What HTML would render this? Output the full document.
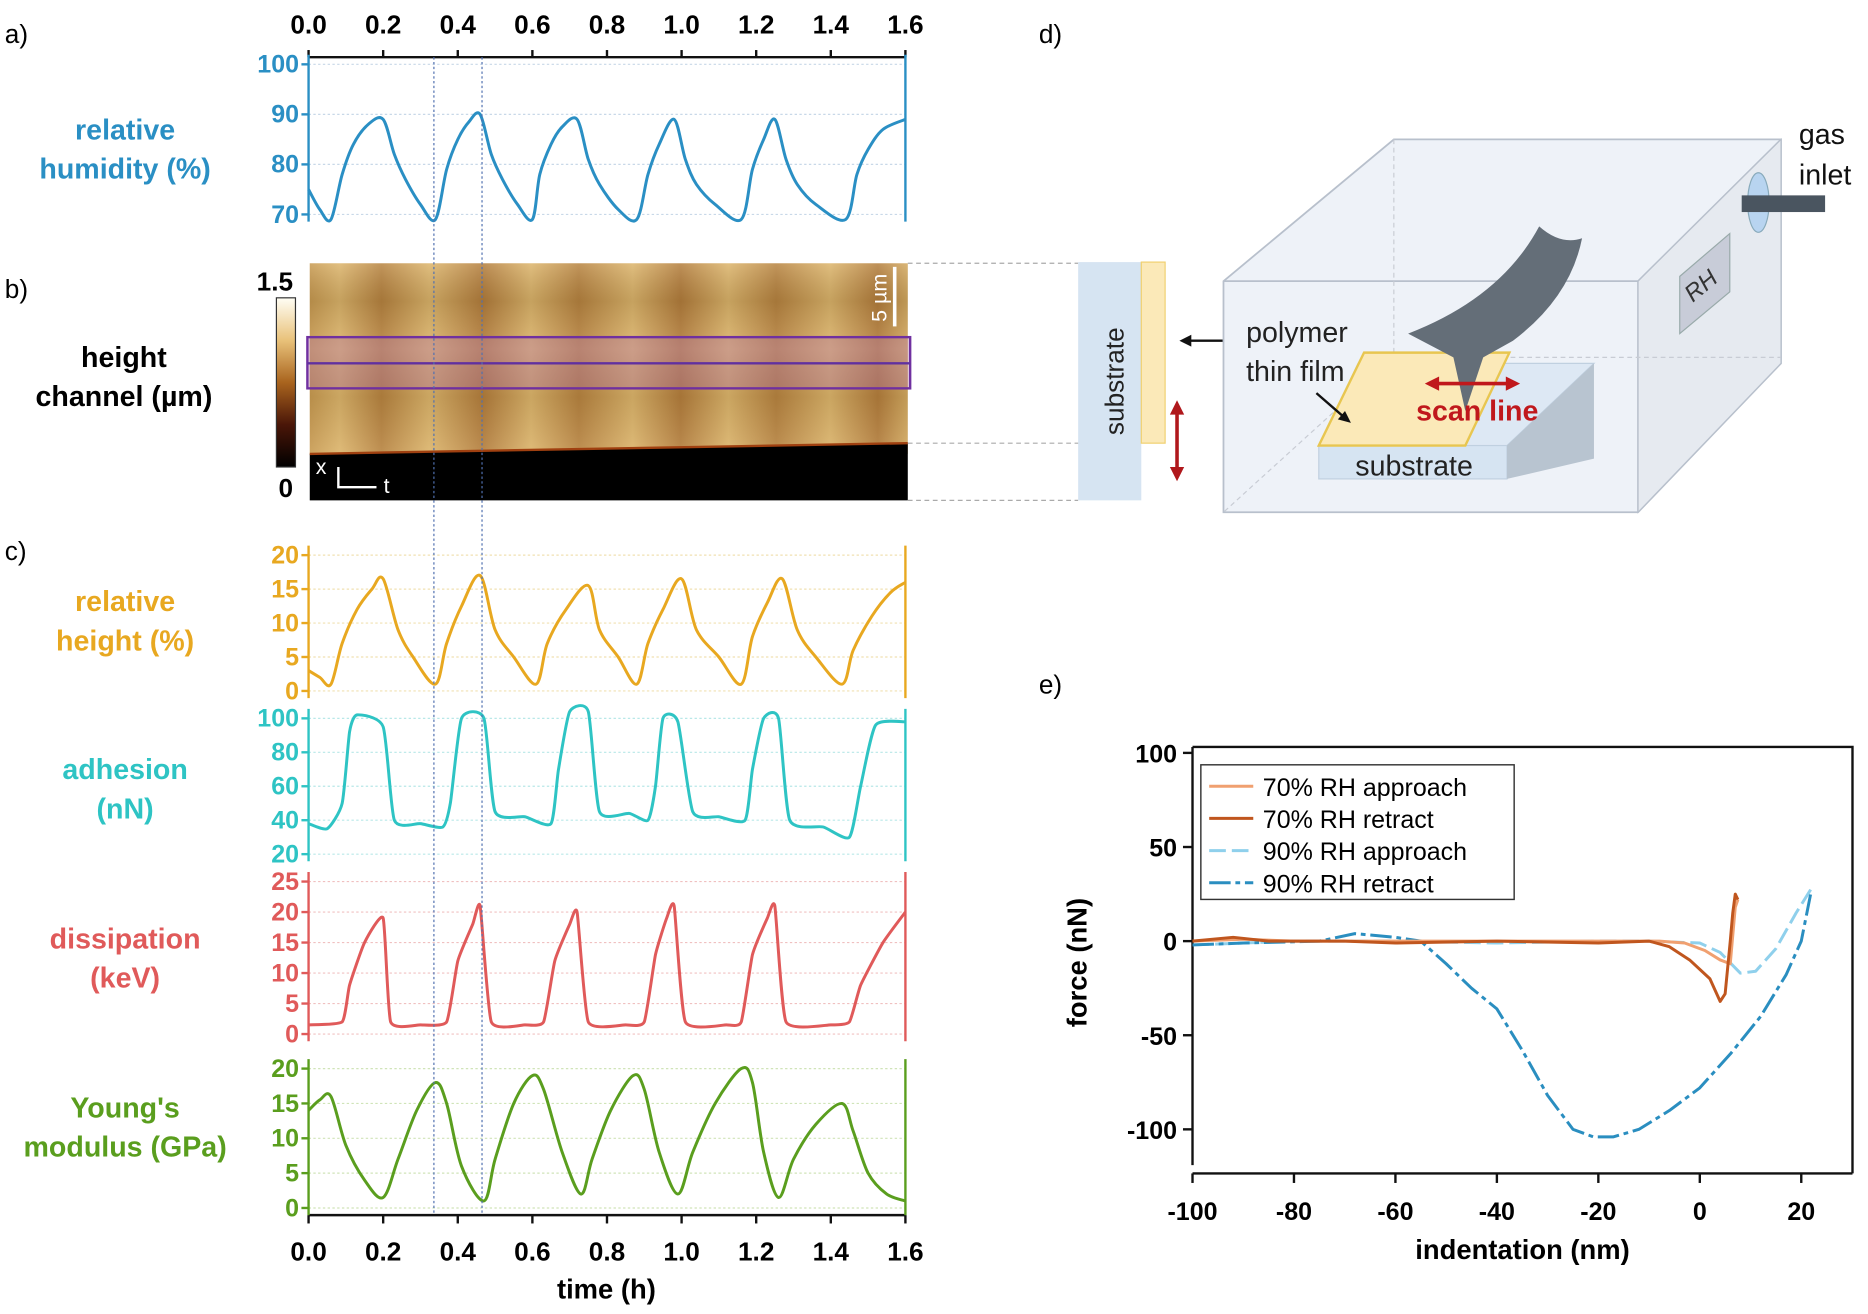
<!DOCTYPE html>
<html><head><meta charset="utf-8"><style>
html,body{margin:0;padding:0;background:#fff;}
svg{display:block;font-family:"Liberation Sans",Arial,sans-serif;}
</style></head><body>
<svg id="fig" width="1868" height="1314" viewBox="0 0 1568 1103" xmlns="http://www.w3.org/2000/svg">
<defs>
<linearGradient id="cbar" x1="0" y1="0" x2="0" y2="1">
<stop offset="0" stop-color="#fffef5"/><stop offset="0.25" stop-color="#e9c27a"/><stop offset="0.5" stop-color="#a9641e"/><stop offset="0.75" stop-color="#4a1608"/><stop offset="1" stop-color="#000"/>
</linearGradient>
<linearGradient id="stripes" x1="0" y1="0" x2="1" y2="0">
<stop offset="0" stop-color="#c89a50"/><stop offset="0.05" stop-color="#dcb46a"/><stop offset="0.12" stop-color="#b88440"/>
<stop offset="0.2" stop-color="#dcb46a"/><stop offset="0.29" stop-color="#b47e3c"/><stop offset="0.37" stop-color="#dcb46a"/>
<stop offset="0.45" stop-color="#b88440"/><stop offset="0.54" stop-color="#dcb46a"/><stop offset="0.62" stop-color="#b47e3c"/>
<stop offset="0.7" stop-color="#dcb46a"/><stop offset="0.78" stop-color="#b88440"/><stop offset="0.87" stop-color="#dcb46a"/>
<stop offset="0.95" stop-color="#b47e3c"/><stop offset="1" stop-color="#d4aa60"/>
</linearGradient>
<linearGradient id="vstr" x1="0" y1="0" x2="0" y2="1">
<stop offset="0" stop-color="#fff" stop-opacity="0.15"/><stop offset="0.2" stop-color="#000" stop-opacity="0.1"/><stop offset="0.45" stop-color="#fff" stop-opacity="0.1"/><stop offset="0.7" stop-color="#000" stop-opacity="0.08"/><stop offset="1" stop-color="#fff" stop-opacity="0.1"/>
</linearGradient>
</defs>
<g id="left"></g>
<g id="diagram">
<text x="872" y="36" font-size="22">d)</text>
<line x1="762" y1="221" x2="905" y2="221" stroke="#aaa" stroke-dasharray="4,3"/>
<line x1="762" y1="372" x2="958" y2="372" stroke="#aaa" stroke-dasharray="4,3"/>
<line x1="762" y1="420" x2="905" y2="420" stroke="#aaa" stroke-dasharray="4,3"/>
<rect x="905" y="220" width="53" height="200" fill="#d6e4f2"/>
<rect x="958" y="220" width="20" height="152" fill="#fbe9b8" stroke="#f0d070"/>
<text transform="translate(943,320) rotate(-90)" font-size="22" text-anchor="middle" fill="#222">substrate</text>
<line x1="1040" y1="286" x2="998" y2="286" stroke="#111" stroke-width="2"/><path d="M990,286 l10,-5 v10z" fill="#111"/>
<line x1="988" y1="346" x2="988" y2="394" stroke="#b0181c" stroke-width="3"/><path d="M988,336 l-6,12 h12z M988,404 l-6,-12 h12z" fill="#b0181c"/>
<path d="M1027,236 L1170,117 L1495,117 L1495,305 L1375,430 L1027,430Z" fill="#eef2f8" stroke="#b8c0cc" stroke-width="1.5"/>
<path d="M1027,236 L1375,236 L1495,117 M1375,236 L1375,430" fill="none" stroke="#b8c0cc" stroke-width="1.5"/>
<path d="M1375,236 L1495,117 L1495,305 L1375,430Z" fill="#e6eaf0" stroke="#b8c0cc"/>
<path d="M1170,117 L1170,300 L1027,430 M1170,300 L1495,300" fill="none" stroke="#c8ccd4" stroke-dasharray="4,3"/>
<path d="M1410,232 L1452,196 L1452,245 L1410,280Z" fill="#c8ccd8" stroke="#9aa"/>
<text transform="translate(1432,245) rotate(-40)" font-size="20" font-style="italic" text-anchor="middle" fill="#333">RH</text>
<ellipse cx="1476" cy="170" rx="9" ry="25" fill="#b8d4f0" stroke="#8ab"/>
<rect x="1462" y="164" width="70" height="14" fill="#4a5560"/>
<text x="1510" y="121" font-size="24" fill="#111">gas</text><text x="1510" y="155" font-size="24" fill="#111">inlet</text>
<path d="M1107,374 L1140,305 L1338,305 L1265,374Z" fill="#dde8f4" stroke="#c0d0e0"/>
<rect x="1107" y="374" width="158" height="28" fill="#d6e4f2" stroke="#c0d0e0"/>
<path d="M1265,374 L1338,305 L1338,385 L1265,402Z" fill="#b8c4d0"/>
<path d="M1107,374 L1145,296 L1267,296 L1230,374Z" fill="#fbe9b8" stroke="#e8c650" stroke-width="2"/>
<text x="1187" y="399" font-size="24" text-anchor="middle" fill="#222">substrate</text>
<path d="M1292,190 Q1310,206 1328,200 Q1318,250 1270,286 L1245,300 L1230,345 L1220,300 L1182,280 Q1260,250 1292,190Z" fill="#646e78"/>
<line x1="1205" y1="322" x2="1268" y2="322" stroke="#c0181c" stroke-width="3"/><path d="M1196,322 l12,-6 v12z M1276,322 l-12,-6 v12z" fill="#c0181c"/>
<text x="1240" y="353" font-size="24" font-weight="bold" text-anchor="middle" fill="#c0181c">scan line</text>
<text x="1046" y="287" font-size="24" fill="#222">polymer</text><text x="1046" y="320" font-size="24" fill="#222">thin film</text>
<line x1="1105" y1="330" x2="1128" y2="350" stroke="#111" stroke-width="2"/><path d="M1134,355 l-11,-3 l6,-7z" fill="#111"/>
</g>
<g id="right"></g>
</svg>
<script>
// ---------- data (left panels, time in h) ----------
const tickT=[0,0.2,0.4,0.6,0.8,1.0,1.2,1.4,1.6];
const rhT=[0,0.03,0.06,0.09,0.12,0.16,0.2,0.23,0.26,0.3,0.34,0.37,0.4,0.43,0.46,0.49,0.52,0.56,0.6,0.62,0.65,0.68,0.72,0.75,0.78,0.83,0.88,0.91,0.94,0.98,1.01,1.04,1.09,1.16,1.19,1.22,1.25,1.28,1.31,1.36,1.44,1.47,1.5,1.54,1.6];
const rhV=[75,71,69,78,84,88,89,82,77,72,69,79,85,88.5,90,82,77,72,69,78,84,87.5,89,81,76,71,69,78,84,89,81,76,72,69,79,85,89,81,76,72,69,78,83,87,89];
const hT=[0,0.03,0.06,0.09,0.13,0.17,0.2,0.24,0.28,0.34,0.37,0.41,0.46,0.5,0.55,0.61,0.64,0.69,0.75,0.78,0.83,0.88,0.91,0.95,1.0,1.04,1.1,1.16,1.19,1.23,1.27,1.31,1.36,1.43,1.46,1.51,1.56,1.6];
const hV=[3,2,1,7,12,15,16.5,9,5,1,7,12.5,17,9,5,1,7,12,15.5,9,5,1,7,12,16.5,9,5,1,8,13,16.5,9,5,1,6,11,14.5,16];
const adT=[0,0.05,0.09,0.11,0.13,0.2,0.23,0.3,0.36,0.38,0.41,0.47,0.5,0.58,0.65,0.67,0.7,0.75,0.78,0.86,0.91,0.93,0.95,0.99,1.03,1.1,1.17,1.19,1.22,1.26,1.29,1.38,1.45,1.48,1.52,1.6];
const adV=[38,35,50,92,102,95,40,38,36,50,100,100,45,42,38,70,104,104,45,44,40,60,100,98,45,42,40,70,100,100,40,36,30,60,96,98];
const dsT=[0,0.09,0.11,0.15,0.2,0.22,0.3,0.37,0.4,0.44,0.46,0.49,0.58,0.63,0.66,0.7,0.72,0.75,0.85,0.9,0.93,0.96,0.98,1.01,1.12,1.16,1.19,1.23,1.25,1.28,1.4,1.45,1.48,1.54,1.6];
const dsV=[1.5,2,8,15,19,2,1.5,2,12,18,21,2,1.5,2,12,18,20,2,1.5,2,13,19,21,2,1.5,2,13,19,21,2,1.5,2,8,15,20];
const ymT=[0,0.03,0.06,0.1,0.15,0.2,0.24,0.29,0.34,0.37,0.41,0.47,0.5,0.55,0.6,0.63,0.68,0.73,0.76,0.81,0.87,0.9,0.94,0.99,1.03,1.09,1.16,1.19,1.22,1.26,1.3,1.36,1.43,1.46,1.5,1.55,1.6];
const ymV=[14,15.5,16,9,4,1.5,7,14,18,15,6,1,7,15,19,17,8,2,7,14,19,17,8,2,8,15,20,18,8,1.5,7,12,15,11,5,2,1];
// ---------- data (panel e) ----------
const eTicksX=[-100,-80,-60,-40,-20,0,20];
const eTicksY=[-100,-50,0,50,100];
const a70X=[-100,-90,-80,-60,-40,-20,-8,-3,1,4,6,7,7.5];
const a70Y=[0,1,0,0,0,0,0,-1,-5,-10,-12,18,22];
const r70X=[-100,-92,-85,-70,-60,-40,-20,-10,-6,-2,2,4,5,6,6.5,7,7.5];
const r70Y=[0,2,0,0,-1,0,-1,0,-3,-10,-20,-32,-28,0,15,25,22];
const a90X=[-100,-90,-80,-60,-40,-20,-10,0,4,8,11,15,19,22];
const a90Y=[-2,-1,0,0,-1,0,0,-1,-6,-17,-16,-4,15,28];
const r90X=[-100,-90,-75,-68,-60,-55,-50,-45,-40,-35,-30,-25,-21,-17,-12,-6,0,6,12,17,20,22];
const r90Y=[-2,-1,0,4,2,0,-12,-25,-36,-58,-82,-100,-104,-104,-100,-90,-78,-60,-40,-18,0,27];

const NS='http://www.w3.org/2000/svg';
function mk(tag,attrs,parent,txt){const e=document.createElementNS(NS,tag);for(const k in attrs)e.setAttribute(k,attrs[k]);if(txt!==undefined)e.textContent=txt;parent.appendChild(e);return e;}
function smooth(P,k){let d='M'+P[0][0].toFixed(1)+','+P[0][1].toFixed(1);
 for(let i=0;i<P.length-1;i++){const p0=P[Math.max(i-1,0)],p1=P[i],p2=P[i+1],p3=P[Math.min(i+2,P.length-1)];
  const c1=[p1[0]+(p2[0]-p0[0])*k,p1[1]+(p2[1]-p0[1])*k],c2=[p2[0]-(p3[0]-p1[0])*k,p2[1]-(p3[1]-p1[1])*k];
  d+=' C'+c1.map(v=>v.toFixed(1)).join(',')+' '+c2.map(v=>v.toFixed(1)).join(',')+' '+p2[0].toFixed(1)+','+p2[1].toFixed(1);}
 return d;}
const L=document.getElementById('left');
const X0=259,X1=760;
const xs=t=>X0+(X1-X0)*t/1.6;
let el;
mk('line',{x1:X0,y1:48,x2:X1,y2:48,stroke:'#111','stroke-width':2},L);
tickT.forEach(t=>{mk('line',{x1:xs(t),y1:42,x2:xs(t),y2:48,stroke:'#111','stroke-width':2},L);
 el=mk('text',{x:xs(t),y:28,'font-size':22,'font-weight':'bold','text-anchor':'middle'},L,t.toFixed(1));
 
 });
mk('line',{x1:X0,y1:1020,x2:X1,y2:1020,stroke:'#111','stroke-width':2},L);
tickT.forEach(t=>{mk('line',{x1:xs(t),y1:1020,x2:xs(t),y2:1027,stroke:'#111','stroke-width':2},L);
 el=mk('text',{x:xs(t),y:1058,'font-size':22,'font-weight':'bold','text-anchor':'middle'},L,t.toFixed(1));
 
 });
el=mk('text',{x:509,y:1090,'font-size':23,'font-weight':'bold','text-anchor':'middle'},L,'time (h)');


[['a)',36],['b)',250],['c)',470]].forEach(p=>{el=mk('text',{x:4,y:p[1],'font-size':22},L,p[0]);
 
 });

function panel(name,color,grid,vmin,vmax,ytop,ybot,ticks,tArr,vArr,labels,ly,k){
 const g=mk('g',{},L);
 
 
 const ys=v=>ybot+(ytop-ybot)*(v-vmin)/(vmax-vmin);
 ticks.forEach(v=>{mk('line',{x1:X0,y1:ys(v),x2:X1,y2:ys(v),stroke:grid,'stroke-width':1,'stroke-dasharray':'2,2'},g);
  mk('line',{x1:X0-6,y1:ys(v),x2:X0,y2:ys(v),stroke:color,'stroke-width':2},g);
  const t=mk('text',{x:X0-8,y:ys(v)+7,'font-size':21,'font-weight':'bold','text-anchor':'end',fill:color},g,String(v));
  
  });
 const top=ys(ticks[ticks.length-1])-8, bot=ys(ticks[0])+6;
 mk('line',{x1:X0,y1:top,x2:X0,y2:bot,stroke:color,'stroke-width':2},g);
 mk('line',{x1:X1,y1:top,x2:X1,y2:bot,stroke:color,'stroke-width':2},g);
 const P=tArr.map((t,i)=>[xs(t),ys(vArr[i])]);
 const pl=mk('path',{d:smooth(P,k),fill:'none',stroke:color,'stroke-width':2.5,'stroke-linejoin':'round'},g);
 
 
 labels.forEach((s,i)=>{const t=mk('text',{x:105,y:ly+i*33,'font-size':24,'font-weight':'bold','text-anchor':'middle',fill:color},g,s);
  
  });
}
panel('humidity','#2a8fc4','#c8d8e8',70,100,54,180,[70,80,90,100],rhT,rhV,['relative','humidity (%)'],117,0.16);
panel('rel-height','#e8a820','#f0e0b0',0,20,466,580,[0,5,10,15,20],hT,hV,['relative','height (%)'],513,0.16);
panel('adhesion','#2ec4c4','#b8e8e8',20,100,603,717,[20,40,60,80,100],adT,adV,['adhesion','(nN)'],654,0.1);
panel('dissipation','#e05a5a','#f0c0c0',0,25,740,868,[0,5,10,15,20,25],dsT,dsV,['dissipation','(keV)'],796,0.08);
panel('youngs','#5a9e1e','#d0e4b8',0,20,897,1014,[0,5,10,15,20],ymT,ymV,["Young's",'modulus (GPa)'],938,0.16);

const hb=mk('g',{},L);


mk('rect',{x:260,y:221,width:502,height:160,fill:'url(#stripes)'},hb);
mk('rect',{x:260,y:221,width:502,height:160,fill:'url(#vstr)'},hb);
mk('path',{d:'M260,381 L762,372 L762,420 L260,420Z',fill:'#000'},hb);
mk('path',{d:'M260,381 L762,372',stroke:'#a04010','stroke-width':2},hb);
mk('rect',{x:258,y:283,width:506,height:43,fill:'#b070a0','fill-opacity':0.4,stroke:'#7030a0','stroke-width':2},hb);
mk('line',{x1:258,y1:305,x2:764,y2:305,stroke:'#6030a0','stroke-width':2},hb);
mk('line',{x1:751,y1:224,x2:751,y2:274,stroke:'#fff','stroke-width':3},hb);
mk('text',{transform:'translate(744,250) rotate(-90)','font-size':18,'text-anchor':'middle',fill:'#fff'},hb,'5 µm');
mk('path',{d:'M284,392 V409 H316',fill:'none',stroke:'#fff','stroke-width':2},hb);
mk('text',{x:265,y:398,'font-size':18,fill:'#fff'},hb,'x');
mk('text',{x:322,y:414,'font-size':18,fill:'#fff'},hb,'t');
mk('rect',{x:232,y:250,width:16,height:142,fill:'url(#cbar)',stroke:'#333','stroke-width':1},hb);
mk('text',{x:246,y:244,'font-size':22,'font-weight':'bold','text-anchor':'end'},hb,'1.5');
mk('text',{x:246,y:417,'font-size':22,'font-weight':'bold','text-anchor':'end'},hb,'0');
mk('text',{x:104,y:308,'font-size':24,'font-weight':'bold','text-anchor':'middle'},hb,'height');
mk('text',{x:104,y:341,'font-size':24,'font-weight':'bold','text-anchor':'middle'},hb,'channel (µm)');
[0.336,0.465].forEach(t=>{const ln=mk('line',{x1:xs(t),y1:48,x2:xs(t),y2:1020,stroke:'#5070b0','stroke-width':1,'stroke-dasharray':'2,2'},L);
 
 });

const R=document.getElementById('right');
const ex=v=>1001+(1512-1001)*(v+100)/120;
const ey=v=>790-(790-632)*v/100;
mk('text',{x:872,y:582,'font-size':22},R,'e)');
mk('path',{d:'M1001,627 H1555 V985',fill:'none',stroke:'#111','stroke-width':2},R);
mk('line',{x1:1001,y1:627,x2:1001,y2:978,stroke:'#111','stroke-width':2},R);
mk('line',{x1:1001,y1:985,x2:1555,y2:985,stroke:'#111','stroke-width':2},R);
eTicksX.forEach(v=>{mk('line',{x1:ex(v),y1:985,x2:ex(v),y2:993,stroke:'#111','stroke-width':2},R);
 el=mk('text',{x:ex(v),y:1024,'font-size':21,'font-weight':'bold','text-anchor':'middle'},R,String(v));
 
 });
eTicksY.forEach(v=>{mk('line',{x1:993,y1:ey(v),x2:1001,y2:ey(v),stroke:'#111','stroke-width':2},R);
 el=mk('text',{x:988,y:ey(v)+8,'font-size':21,'font-weight':'bold','text-anchor':'end'},R,String(v));
 
 });
el=mk('text',{x:1278,y:1057,'font-size':23,'font-weight':'bold','text-anchor':'middle'},R,'indentation (nm)');


el=mk('text',{transform:'translate(912,808) rotate(-90)','font-size':23,'font-weight':'bold','text-anchor':'middle'},R,'force (nN)');


const series=[[a90X,a90Y,'#8fd0ec','14,5','90-approach'],[r90X,r90Y,'#2a8ec0','18,4,4,4','90-retract'],[a70X,a70Y,'#f0a070','','70-approach'],[r70X,r70Y,'#c0561e','','70-retract']];
series.forEach(s=>{const pts=s[0].map((x,i)=>ex(x).toFixed(1)+','+ey(s[1][i]).toFixed(1)).join(' ');
 const p=mk('polyline',{points:pts,fill:'none',stroke:s[2],'stroke-width':2.5,'stroke-dasharray':s[3]||'none','stroke-linejoin':'round'},R);
 
 });
const lg=mk('g',{},R);


mk('rect',{x:1008,y:642,width:263,height:113,fill:'#fff',stroke:'#333','stroke-width':1.2},lg);
[['70% RH approach','#f0a070',''],['70% RH retract','#c0561e',''],['90% RH approach','#8fd0ec','14,5'],['90% RH retract','#2a8ec0','18,4,4,4']].forEach((e,i)=>{
 const y=660+i*27;
 mk('line',{x1:1015,y1:y,x2:1052,y2:y,stroke:e[1],'stroke-width':2.5,'stroke-dasharray':e[2]||'none'},lg);
 const t=mk('text',{x:1060,y:y+8,'font-size':21},lg,e[0]);
 
 });
</script>
</body></html>
